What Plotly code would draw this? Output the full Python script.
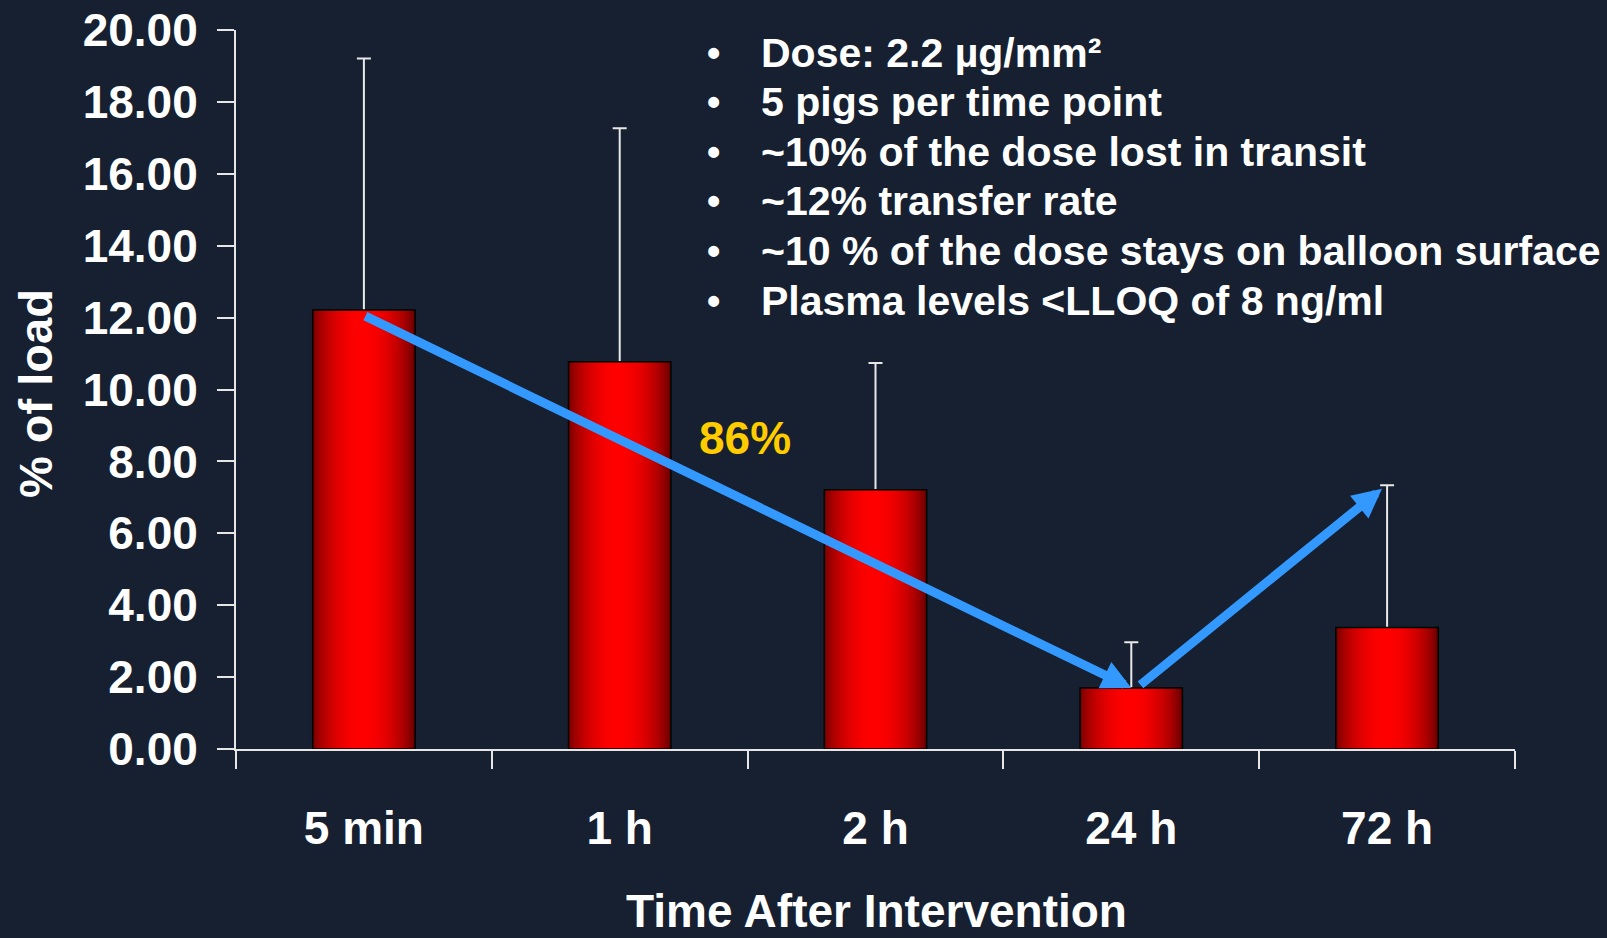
import math
import plotly.graph_objects as go

# Drug tissue levels after intervention (% of loaded dose), mean and SD
categories = ["5 min", "1 h", "2 h", "24 h", "72 h"]
load_pct = [12.21, 10.77, 7.21, 1.70, 3.38]
load_sd = [7.00, 6.50, 3.53, 1.27, 3.96]

notes = [
    "Dose: 2.2 µg/mm²",
    "5 pigs per time point",
    "~10% of the dose lost in transit",
    "~12% transfer rate",
    "~10 % of the dose stays on balloon surface",
    "Plasma levels <LLOQ of 8 ng/ml",
]

BG = "#162030"
AXIS = "#e6e6e6"
FONT = "Liberation Sans, Arial, sans-serif"
W, H = 1607, 938
L, R, T, B = 236, 92, 30, 189
PW, PH = W - L - R, H - T - B


def px_x(px):
    return (px - L) / PW


def px_y(py):
    return (H - B - py) / PH


def red_shade(t):
    # cylinder-like shading: dark edges, bright red just left of centre
    peak = 0.48
    u = 0.5 * t / peak if t < peak else 0.5 + 0.5 * (t - peak) / (1 - peak)
    lo = 112 + (92 - 112) * t
    r = lo + (255 - lo) * math.sin(math.pi * u) ** 0.7
    return f"rgb({int(round(r))},0,0)"


fig = go.Figure()

BW = 0.4

# SD whiskers go underneath the bars so only the upper part shows
WHISKER_TUCK = 0.2
fig.add_bar(
    x=categories, y=load_pct, width=BW, offset=-BW / 2,
    marker=dict(color="rgba(0,0,0,0)", line=dict(width=0)),
    error_y=dict(type="data", array=load_sd,
                 arrayminus=[WHISKER_TUCK] * len(load_sd),
                 symmetric=False, color="#e8e8e8", thickness=2, width=7),
    showlegend=False, hoverinfo="skip",
)

# shaded bar body built from thin vertical slices
N = 48
step = BW / N
for i in range(N):
    off = -BW / 2 + i * step
    w = min(step * 1.7, BW / 2 - off)
    fig.add_bar(
        x=categories, y=load_pct, width=w, offset=off,
        marker=dict(color=red_shade((i + 0.5) / N), line=dict(width=0)),
        showlegend=False, hoverinfo="skip",
    )

# bar outline
fig.add_bar(
    x=categories, y=load_pct, width=BW, offset=-BW / 2,
    marker=dict(color="rgba(0,0,0,0)", line=dict(color="#000000", width=1.5)),
    showlegend=False,
)

arrow = dict(xref="x", yref="y", axref="x", ayref="y", showarrow=True, text="",
             arrowhead=2, arrowsize=0.65, arrowwidth=9, arrowcolor="#3399ff")
annotations = [
    dict(arrow, x=3, y=load_pct[3], ax=0, ay=load_pct[0] - 0.15),
    dict(arrow, x=3.98, y=load_pct[4] + load_sd[4] - 0.1, ax=3.03, ay=load_pct[3] + 0.05),
]

drop = round((load_pct[0] - load_pct[3]) / load_pct[0] * 100)
annotations.append(dict(
    x=1.49, y=8.66, xref="x", yref="y", text=f"{drop}%", showarrow=False,
    font=dict(family=FONT, size=46, color="#ffcc00", weight="bold"),
    xanchor="center", yanchor="middle",
))

for k, line in enumerate(notes):
    yc = 52.5 + k * 49.6
    annotations.append(dict(
        x=px_x(713), y=px_y(yc), xref="paper", yref="paper", text="•",
        showarrow=False, xanchor="center", yanchor="middle",
        font=dict(family=FONT, size=38, color="white", weight="bold"),
    ))
    annotations.append(dict(
        x=px_x(759), y=px_y(yc), xref="paper", yref="paper", text=line,
        showarrow=False, xanchor="left", yanchor="middle",
        font=dict(family=FONT, size=41, color="white", weight="bold"),
    ))

annotations.append(dict(
    x=px_x(35), y=px_y(394), xref="paper", yref="paper", text="% of load",
    textangle=-90, showarrow=False, xanchor="center", yanchor="middle",
    font=dict(family=FONT, size=47, color="white", weight="bold"),
))
annotations.append(dict(
    x=px_x(876), y=px_y(911), xref="paper", yref="paper",
    text="Time After Intervention", showarrow=False,
    xanchor="center", yanchor="middle",
    font=dict(family=FONT, size=46, color="white", weight="bold"),
))

fig.update_layout(
    width=W, height=H,
    margin=dict(l=L, r=R, t=T, b=B, autoexpand=False),
    paper_bgcolor=BG, plot_bgcolor=BG,
    barmode="overlay",
    showlegend=False,
    annotations=annotations,
    xaxis=dict(
        type="category", tickson="boundaries", ticks="outside", ticklen=18,
        tickwidth=1.5, tickcolor=AXIS, showline=True, linecolor=AXIS, linewidth=2,
        showgrid=False, zeroline=False, ticklabelstandoff=38, automargin=False,
        tickfont=dict(family=FONT, size=46, color="white", weight="bold"),
    ),
    yaxis=dict(
        range=[0, 20], dtick=2, tickformat=".2f", ticks="outside", ticklen=17,
        tickwidth=1.5, tickcolor=AXIS, showline=True, linecolor=AXIS, linewidth=2,
        showgrid=False, zeroline=False, ticklabelstandoff=10, automargin=False,
        tickfont=dict(family=FONT, size=46, color="white", weight="bold"),
    ),
)

fig.write_html("out.html")
